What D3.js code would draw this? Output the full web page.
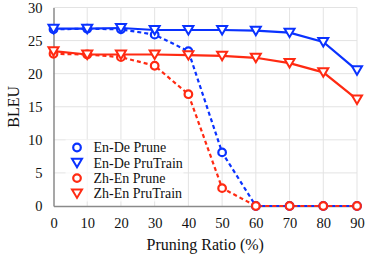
<!DOCTYPE html>
<html>
<head>
<meta charset="utf-8">
<script src="https://cdn.jsdelivr.net/npm/d3@7"></script>
<style>
body { margin: 0; background: #fff; }
</style>
</head>
<body>
<div id="chart"></div>
<script>
var ratios = [0, 10, 20, 30, 40, 50, 60, 70, 80, 90];
var enDePrune = [26.7, 26.8, 26.7, 25.9, 23.4, 8.1, 0, 0, 0, 0];
var enDePruTrain = [26.8, 26.8, 26.9, 26.6, 26.6, 26.6, 26.5, 26.2, 24.8, 20.5];
var zhEnPrune = [23.0, 22.9, 22.5, 21.2, 16.9, 2.7, 0, 0, 0, 0];
var zhEnPruTrain = [23.4, 22.9, 22.9, 22.9, 22.8, 22.7, 22.4, 21.6, 20.2, 16.1];
var yTicks = [0, 5, 10, 15, 20, 25, 30];

var blue = "#0a32ff", red = "#ff2a12";
var serifFont = "'Liberation Serif'";

var series = [
	{name: "En-De Prune", values: enDePrune, color: blue, marker: "circle", dash: "4,3"},
	{name: "En-De PruTrain", values: enDePruTrain, color: blue, marker: "tri", dash: null},
	{name: "Zh-En Prune", values: zhEnPrune, color: red, marker: "circle", dash: "4,3"},
	{name: "Zh-En PruTrain", values: zhEnPruTrain, color: red, marker: "tri", dash: null}
];

var W = 366, H = 261;
var margin = {top: 7.5, right: 9, bottom: 55, left: 53.5};
var width = W - margin.left - margin.right;
var height = H - margin.top - margin.bottom;

var svg = d3.select("#chart").append("svg")
	.attr("width", W)
	.attr("height", H);

var g = svg.append("g")
	.attr("transform", "translate(" + margin.left + "," + margin.top + ")");

var x = d3.scaleLinear().domain([0, 90]).range([0, width]);
var y = d3.scaleLinear().domain([0, 30]).range([height, 0]);

// grid
g.append("g")
	.selectAll("line")
	.data(ratios.slice(1))
	.enter().append("line")
	.attr("x1", d => x(d)).attr("x2", d => x(d))
	.attr("y1", 0).attr("y2", height)
	.attr("stroke", "#e3e3e3").attr("stroke-width", 1);

g.append("g")
	.selectAll("line")
	.data(yTicks.slice(1))
	.enter().append("line")
	.attr("x1", 0).attr("x2", width)
	.attr("y1", d => y(d)).attr("y2", d => y(d))
	.attr("stroke", "#e3e3e3").attr("stroke-width", 1);

// axes
var xAxis = g.append("g")
	.attr("transform", "translate(0," + height + ")")
	.call(d3.axisBottom(x).tickValues(ratios).tickSize(0).tickPadding(12));
var yAxis = g.append("g")
	.call(d3.axisLeft(y).tickValues(yTicks).tickSize(0).tickPadding(11));
[xAxis, yAxis].forEach(function (a) {
	a.attr("font-family", null).attr("font-size", null);
	a.select(".domain").attr("stroke", "#8a8a8a").attr("stroke-width", 1.5);
	a.selectAll("text")
		.style("font-family", serifFont)
		.style("font-size", "14.5px")
		.attr("fill", "#111");
});

// lines
var line = d3.line()
	.x((d, i) => x(ratios[i]))
	.y(d => y(d));

series.forEach(function (s) {
	g.append("path")
		.datum(s.values)
		.attr("fill", "none")
		.attr("stroke", s.color)
		.attr("stroke-width", 2.2)
		.attr("stroke-dasharray", s.dash)
		.attr("d", line);
});

function drawMarker(sel, type, color) {
	if (type === "circle") {
		sel.append("circle").attr("r", 3.8)
			.attr("fill", "#fff").attr("stroke", color).attr("stroke-width", 2.2);
	} else {
		sel.append("path").attr("d", "M-5,-4 L5,-4 L0,4.5 Z")
			.attr("fill", "#fff").attr("stroke", color).attr("stroke-width", 2)
			.attr("stroke-linejoin", "miter");
	}
}

series.forEach(function (s) {
	s.values.forEach(function (v, i) {
		var m = g.append("g").attr("transform", "translate(" + x(ratios[i]) + "," + y(v) + ")");
		drawMarker(m, s.marker, s.color);
	});
});

// legend
var leg = g.append("g").attr("transform", "translate(12,132)");
leg.append("rect").attr("x", 0).attr("y", 0).attr("width", 118).attr("height", 62)
	.attr("fill", "#fff").attr("fill-opacity", 0.75);
series.forEach(function (s, i) {
	var row = leg.append("g").attr("transform", "translate(0," + (8 + i * 15.3) + ")");
	var m = row.append("g").attr("transform", "translate(11.5,0)");
	drawMarker(m, s.marker, s.color);
	row.append("text").attr("x", 28).attr("y", 0).attr("dy", "0.35em")
		.style("font-family", serifFont)
		.style("font-size", "14px")
		.attr("fill", "#111")
		.text(s.name);
});

// titles
svg.append("text")
	.attr("transform", "translate(19," + (margin.top + height / 2) + ") rotate(-90)")
	.attr("text-anchor", "middle")
	.style("font-family", serifFont)
	.style("font-size", "16px")
	.attr("fill", "#111")
	.text("BLEU");

svg.append("text")
	.attr("x", margin.left + width / 2)
	.attr("y", 250)
	.attr("text-anchor", "middle")
	.style("font-family", serifFont)
	.style("font-size", "16px")
	.attr("fill", "#111")
	.text("Pruning Ratio (%)");
</script>
</body>
</html>
